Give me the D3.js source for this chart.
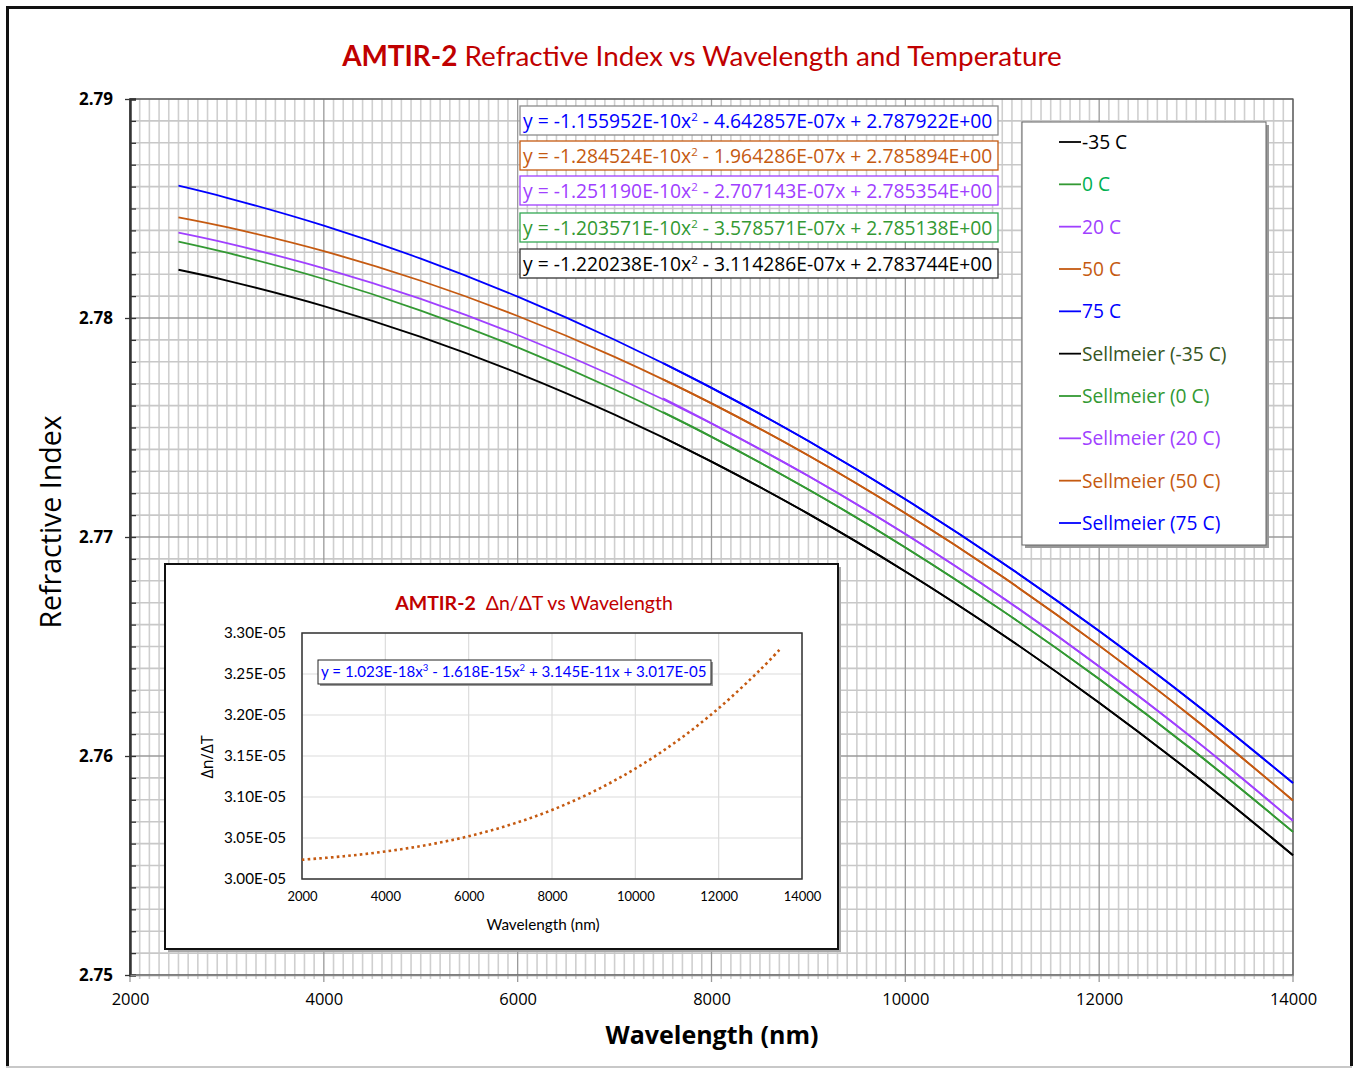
<!DOCTYPE html>
<html>
<head>
<meta charset="utf-8">
<script src="https://cdn.jsdelivr.net/npm/d3@7"></script>
<style>
  body { margin: 0; background: #fff; }
  svg { display: block; }
</style>
</head>
<body>
<svg id="chart" width="1356" height="1069"></svg>
<script>
// Sellmeier curves, refractive index vs wavelength (nm)
const wavelengths = [2500, 3000, 4000, 5000, 6000, 7000, 8000, 9000, 10000, 11000, 12000, 13000, 14000];
const sellM35 = [2.782203, 2.781712, 2.780546, 2.779136, 2.777483, 2.775585, 2.773443, 2.771057, 2.768427, 2.765553, 2.762435, 2.759073, 2.755467];
const sell0   = [2.783491, 2.782981, 2.781781, 2.780340, 2.778658, 2.776736, 2.774572, 2.772168, 2.769524, 2.766638, 2.763512, 2.760146, 2.756538];
const sell20  = [2.783895, 2.783416, 2.782269, 2.780872, 2.779225, 2.777328, 2.775181, 2.772783, 2.770135, 2.767237, 2.764088, 2.760690, 2.757041];
const sell50  = [2.784600, 2.784149, 2.783053, 2.781701, 2.780091, 2.778225, 2.776102, 2.773722, 2.771084, 2.768191, 2.765040, 2.761632, 2.757967];
const sell75  = [2.786039, 2.785489, 2.784215, 2.782711, 2.780975, 2.779008, 2.776810, 2.774380, 2.771720, 2.768828, 2.765705, 2.762351, 2.758765];

// measured series (overlapping the Sellmeier curves from 7500 nm)
const measWavelengths = [7500, 8000, 9000, 10000, 11000, 12000, 13000, 14000];
const measM35 = [2.774544, 2.773443, 2.771057, 2.768427, 2.765553, 2.762435, 2.759073, 2.755467];
const meas0   = [2.775700, 2.774580, 2.772168, 2.769524, 2.766638, 2.763512, 2.760146, 2.756538];
const meas20  = [2.776330, 2.775190, 2.772783, 2.770135, 2.767237, 2.764088, 2.760690, 2.757041];
const meas50  = [2.777200, 2.776102, 2.773722, 2.771084, 2.768191, 2.765040, 2.761632, 2.757967];
const meas75  = [2.777938, 2.776810, 2.774380, 2.771720, 2.768828, 2.765705, 2.762351, 2.758765];

const legendLabels = ["-35 C", "0 C", "20 C", "50 C", "75 C",
  "Sellmeier (-35 C)", "Sellmeier (0 C)", "Sellmeier (20 C)", "Sellmeier (50 C)", "Sellmeier (75 C)"];

// trendline equations, top to bottom (75, 50, 20, 0, -35 C)
const eqA = ["-1.155952E-10", "-1.284524E-10", "-1.251190E-10", "-1.203571E-10", "-1.220238E-10"];
const eqB = ["4.642857E-07", "1.964286E-07", "2.707143E-07", "3.578571E-07", "3.114286E-07"];
const eqC = ["2.787922E+00", "2.785894E+00", "2.785354E+00", "2.785138E+00", "2.783744E+00"];

// inset: dn/dT vs wavelength
const dndtWavelengths = [2000, 3000, 4000, 5000, 6000, 7000, 8000, 9000, 10000, 11000, 12000, 13000, 13500];
const dndtValues = [3.02346e-5, 3.02774e-5, 3.03354e-5, 3.04147e-5, 3.05214e-5, 3.06618e-5, 3.08418e-5,
  3.10678e-5, 3.13457e-5, 3.16818e-5, 3.20822e-5, 3.25529e-5, 3.28165e-5];
const dndtTicks = [3.00e-5, 3.05e-5, 3.10e-5, 3.15e-5, 3.20e-5, 3.25e-5, 3.30e-5];

const C = {
  black: "#000000",
  green: "#339933",
  purple: "#A040FF",
  orange: "#C55A11",
  blue: "#0000FF",
  red: "#C00000"
};
const calibri = "Lato, 'Open Sans', sans-serif";
const segoe = "'Open Sans', 'Noto Sans', sans-serif";

const svg = d3.select("#chart");

// outer frame
svg.append("rect").attr("x", 0).attr("y", 0).attr("width", 1356).attr("height", 1069).attr("fill", "#fff");
svg.append("line").attr("x1", 6).attr("x2", 1352).attr("y1", 1067).attr("y2", 1067)
  .attr("stroke", "#c8c8c8").attr("stroke-width", 2);
svg.append("path").attr("d", "M7.5,1066 V7.5 H1351.5 V1066")
  .attr("fill", "none").attr("stroke", "#111").attr("stroke-width", 3);

// title
const title = svg.append("text").attr("x", 702).attr("y", 66).attr("text-anchor", "middle")
  .attr("font-family", calibri).attr("font-size", 27.9).attr("fill", C.red);
title.append("tspan").attr("font-weight", "bold").text("AMTIR-2");
title.append("tspan").text(" Refractive Index vs Wavelength and Temperature");

// main scales
const x = d3.scaleLinear().domain([2000, 14000]).range([130, 1293]);
const y = d3.scaleLinear().domain([2.75, 2.79]).range([975, 99]);

const grid = svg.append("g");
const xMinor = d3.range(2000, 14001, 100);
const yMinor = d3.range(0, 41).map(i => 2.75 + i * 0.001);

grid.selectAll(".vminor").data(xMinor.filter(d => d % 2000 !== 0)).join("line")
  .attr("x1", d => x(d)).attr("x2", d => x(d)).attr("y1", y(2.79)).attr("y2", y(2.75) + 4)
  .attr("stroke", "#cfcfcf").attr("stroke-width", 1.6);
grid.selectAll(".hminor").data(yMinor.filter((d, i) => i % 10 !== 0)).join("line")
  .attr("x1", x(2000)).attr("x2", x(14000)).attr("y1", d => y(d)).attr("y2", d => y(d))
  .attr("stroke", "#c8c8c8").attr("stroke-width", 1.6);
grid.selectAll(".vmajor").data(x.ticks(6)).join("line")
  .attr("x1", d => x(d)).attr("x2", d => x(d)).attr("y1", y(2.79)).attr("y2", y(2.75) + 7)
  .attr("stroke", "#9a9a9a").attr("stroke-width", 1.3);
grid.selectAll(".hmajor").data(y.ticks(4)).join("line")
  .attr("x1", x(2000)).attr("x2", x(14000)).attr("y1", d => y(d)).attr("y2", d => y(d))
  .attr("stroke", "#9a9a9a").attr("stroke-width", 1.3);

// plot frame
svg.append("rect").attr("x", x(2000)).attr("y", y(2.79))
  .attr("width", x(14000) - x(2000)).attr("height", y(2.75) - y(2.79))
  .attr("fill", "none").attr("stroke", "#555").attr("stroke-width", 1.2);

// left axis with minor ticks
const yAxisG = svg.append("g").attr("transform", `translate(${x(2000)},0)`)
  .call(d3.axisLeft(y).tickValues(yMinor).tickSize(-6).tickFormat(""));
yAxisG.select(".domain").attr("stroke", "#333").attr("stroke-width", 2.5);
yAxisG.selectAll(".tick line").attr("stroke", "#333").attr("stroke-width", 1.3);
svg.append("g").attr("transform", `translate(${x(2000)},0)`)
  .call(d3.axisLeft(y).tickValues(y.ticks(4)).tickSize(5).tickPadding(12).tickFormat(d3.format(".2f")))
  .call(g => g.select(".domain").remove())
  .call(g => g.selectAll(".tick line").attr("stroke", "#333").attr("stroke-width", 1.3))
  .call(g => g.selectAll("text").attr("font-family", segoe).attr("font-size", 17)
    .attr("font-weight", "bold").attr("fill", "#000"));

// bottom axis labels
svg.append("g").attr("transform", `translate(0,${y(2.75)})`)
  .call(d3.axisBottom(x).tickValues(x.ticks(6)).tickSize(0).tickPadding(18).tickFormat(d3.format("d")))
  .call(g => g.select(".domain").attr("stroke", "#888").attr("stroke-width", 1.5))
  .call(g => g.selectAll("text").attr("font-family", segoe).attr("font-size", 16.5).attr("fill", "#000"));

// axis titles
svg.append("text").attr("x", 712).attr("y", 1044).attr("text-anchor", "middle")
  .attr("font-family", segoe).attr("font-size", 25).attr("font-weight", "bold").text("Wavelength (nm)");
svg.append("text").attr("transform", "translate(61,522) rotate(-90)").attr("text-anchor", "middle")
  .attr("font-family", segoe).attr("font-size", 28.5).text("Refractive Index");

// curves
const line = d3.line().x(d => x(d[0])).y(d => y(d[1])).curve(d3.curveCatmullRom);
const series = [
  { xs: wavelengths, ys: sellM35, color: C.black },
  { xs: wavelengths, ys: sell0, color: C.green },
  { xs: wavelengths, ys: sell20, color: C.purple },
  { xs: wavelengths, ys: sell50, color: C.orange },
  { xs: wavelengths, ys: sell75, color: C.blue },
  { xs: measWavelengths, ys: measM35, color: C.black },
  { xs: measWavelengths, ys: meas0, color: C.green },
  { xs: measWavelengths, ys: meas20, color: C.purple },
  { xs: measWavelengths, ys: meas50, color: C.orange },
  { xs: measWavelengths, ys: meas75, color: C.blue }
];
svg.append("g").selectAll("path").data(series).join("path")
  .attr("d", s => line(s.xs.map((w, i) => [w, s.ys[i]])))
  .attr("fill", "none").attr("stroke", s => s.color).attr("stroke-width", 1.8);

// equation boxes
const eqColors = [C.blue, C.orange, C.purple, C.green, C.black];
const eqBorders = ["#8c8c8c", C.orange, C.purple, "#33a853", "#333"];
const eqTops = [106, 141, 176, 213, 249];
eqA.forEach((a, i) => {
  const g = svg.append("g");
  g.append("rect").attr("x", 520).attr("y", eqTops[i]).attr("width", 478).attr("height", 29)
    .attr("fill", "#fff").attr("stroke", eqBorders[i]).attr("stroke-width", 1.3);
  const t = g.append("text").attr("x", 523).attr("y", eqTops[i] + 22)
    .attr("font-family", segoe).attr("font-size", 19.3).attr("fill", eqColors[i]);
  t.append("tspan").text(`y = ${a}x`);
  t.append("tspan").attr("dy", -7).attr("font-size", 11.5).text("2");
  t.append("tspan").attr("dy", 7).text(` - ${eqB[i]}x + ${eqC[i]}`);
});

// legend
const legendColors = [C.black, C.green, C.purple, C.orange, C.blue, C.black, C.green, C.purple, C.orange, C.blue];
const legendText = ["#000", "#00B050", C.purple, C.orange, C.blue, "#375623", C.green, C.purple, C.orange, C.blue];
svg.append("rect").attr("x", 1025).attr("y", 125).attr("width", 244).attr("height", 423).attr("fill", "#999");
svg.append("rect").attr("x", 1022).attr("y", 122).attr("width", 244).attr("height", 423)
  .attr("fill", "#fff").attr("stroke", "#666").attr("stroke-width", 1);
const ly = d3.scalePoint().domain(legendLabels).range([142, 523]);
const leg = svg.append("g").selectAll("g").data(legendLabels).join("g")
  .attr("transform", d => `translate(0,${ly(d)})`);
leg.append("line").attr("x1", 1059).attr("x2", 1081).attr("y1", 0).attr("y2", 0)
  .attr("stroke", (d, i) => legendColors[i]).attr("stroke-width", 1.8);
leg.append("text").attr("x", 1082).attr("y", 7).attr("font-family", segoe).attr("font-size", 19.2)
  .attr("fill", (d, i) => legendText[i]).text(d => d);

// inset chart
svg.append("rect").attr("x", 168).attr("y", 567).attr("width", 673).attr("height", 385).attr("fill", "#aaa");
svg.append("rect").attr("x", 165).attr("y", 564).attr("width", 673).attr("height", 385)
  .attr("fill", "#fff").attr("stroke", "#111").attr("stroke-width", 2);

const ix = d3.scaleLinear().domain([2000, 14000]).range([302, 802]);
const iy = d3.scaleLinear().domain([3.00e-5, 3.30e-5]).range([879, 633]);

svg.append("g").selectAll("line").data(ix.ticks(6)).join("line")
  .attr("x1", d => ix(d)).attr("x2", d => ix(d)).attr("y1", iy(3.30e-5)).attr("y2", iy(3.00e-5))
  .attr("stroke", "#dcdcdc").attr("stroke-width", 1.2);
svg.append("g").selectAll("line").data(dndtTicks).join("line")
  .attr("x1", ix(2000)).attr("x2", ix(14000)).attr("y1", d => iy(d)).attr("y2", d => iy(d))
  .attr("stroke", "#dcdcdc").attr("stroke-width", 1.2);
svg.append("rect").attr("x", ix(2000)).attr("y", iy(3.30e-5))
  .attr("width", ix(14000) - ix(2000)).attr("height", iy(3.00e-5) - iy(3.30e-5))
  .attr("fill", "none").attr("stroke", "#333").attr("stroke-width", 1.5);

svg.append("g").attr("transform", `translate(${ix(2000)},0)`)
  .call(d3.axisLeft(iy).tickValues(dndtTicks).tickSize(0).tickPadding(16)
    .tickFormat(d => d.toExponential(2).toUpperCase().replace("E-5", "E-05")))
  .call(g => g.select(".domain").remove())
  .call(g => g.selectAll("text").attr("font-family", calibri).attr("font-size", 15.2).attr("fill", "#000"));
svg.append("g").attr("transform", `translate(0,${iy(3.00e-5)})`)
  .call(d3.axisBottom(ix).tickValues(ix.ticks(6)).tickSize(0).tickPadding(13).tickFormat(d3.format("d")))
  .call(g => g.select(".domain").remove())
  .call(g => g.selectAll("text").attr("font-family", calibri).attr("font-size", 13).attr("fill", "#000"));

svg.append("path")
  .attr("d", d3.line().x(d => ix(d[0])).y(d => iy(d[1])).curve(d3.curveCatmullRom)(
    dndtWavelengths.map((w, i) => [w, dndtValues[i]])))
  .attr("fill", "none").attr("stroke", C.orange).attr("stroke-width", 2.6)
  .attr("stroke-dasharray", "2.6,3.2");

const it = svg.append("text").attr("x", 534).attr("y", 610).attr("text-anchor", "middle")
  .attr("font-family", calibri).attr("font-size", 19.5).attr("fill", C.red);
it.append("tspan").attr("font-weight", "bold").text("AMTIR-2");
it.append("tspan").text("\u00A0 \u0394n/\u0394T vs Wavelength");
svg.append("text").attr("x", 543).attr("y", 930).attr("text-anchor", "middle")
  .attr("font-family", calibri).attr("font-size", 15.3).text("Wavelength (nm)");
svg.append("text").attr("transform", "translate(213,757) rotate(-90)").attr("text-anchor", "middle")
  .attr("font-family", segoe).attr("font-size", 16).text("\u0394n/\u0394T");

svg.append("rect").attr("x", 320).attr("y", 662).attr("width", 393).attr("height", 24).attr("fill", "#999");
svg.append("rect").attr("x", 318).attr("y", 660).attr("width", 393).attr("height", 24)
  .attr("fill", "#fff").attr("stroke", "#222").attr("stroke-width", 1);
const ie = svg.append("text").attr("x", 321).attr("y", 677)
  .attr("font-family", calibri).attr("font-size", 15.1).attr("fill", C.blue);
ie.append("tspan").text("y = 1.023E-18x");
ie.append("tspan").attr("dy", -6).attr("font-size", 9.5).text("3");
ie.append("tspan").attr("dy", 6).text(" - 1.618E-15x");
ie.append("tspan").attr("dy", -6).attr("font-size", 9.5).text("2");
ie.append("tspan").attr("dy", 6).text(" + 3.145E-11x + 3.017E-05");
</script>
</body>
</html>
